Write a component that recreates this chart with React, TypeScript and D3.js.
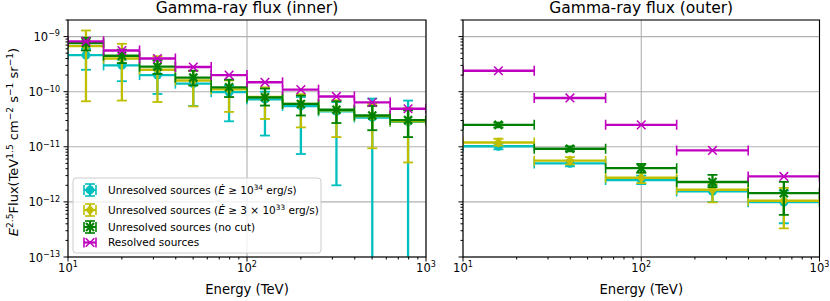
import React from "react";
import * as d3 from "d3";

// energy bins (TeV)
const innerEdges = [10, 15.8, 25.1, 39.8, 63.1, 100, 158, 251, 398, 631, 1000];
const innerCenters = [12.6, 20, 31.6, 50.1, 79.4, 126, 200, 316, 501, 794];
const outerEdges = [10, 25.1, 63.1, 158, 398, 1000];
const outerCenters = [15.8, 39.8, 100, 251, 631];

// inner region fluxes
const innerHi = [4.6e-10, 3.0e-10, 2.0e-10, 1.4e-10, 9.8e-11, 7.3e-11, 5.5e-11, 4.4e-11, 3.4e-11, 2.85e-11];
const innerHiLo = [2.5e-10, 1.55e-10, 9.1e-11, 5.5e-11, 2.9e-11, 1.6e-11, 7.4e-12, 2.0e-12, 1e-15, 1e-15];
const innerHiUp = [6.0e-10, 3.8e-10, 2.6e-10, 1.8e-10, 1.3e-10, 1.0e-10, 8.0e-11, 6.5e-11, 7.5e-11, 6.9e-11];

const innerMid = [6.7e-10, 4.0e-10, 2.5e-10, 1.6e-10, 1.1e-10, 8.0e-11, 6.0e-11, 4.6e-11, 3.6e-11, 2.9e-11];
const innerMidLo = [6.7e-11, 6.9e-11, 6.5e-11, 5.4e-11, 4.3e-11, 3.2e-11, 2.25e-11, 1.5e-11, 9.4e-12, 5.2e-12];
const innerMidUp = [1.29e-9, 7.4e-10, 4.4e-10, 2.4e-10, 1.6e-10, 1.2e-10, 9.0e-11, 7.0e-11, 6.0e-11, 5.0e-11];

const innerAll = [7.6e-10, 4.5e-10, 2.85e-10, 1.8e-10, 1.2e-10, 7.9e-11, 6.0e-11, 4.7e-11, 3.7e-11, 3.05e-11];
const innerAllLo = [5.6e-10, 3.3e-10, 2.1e-10, 1.3e-10, 8.0e-11, 5.6e-11, 3.7e-11, 2.7e-11, 2.0e-11, 1.5e-11];
const innerAllUp = [9.5e-10, 5.8e-10, 3.7e-10, 2.4e-10, 1.65e-10, 1.14e-10, 8.5e-11, 6.7e-11, 5.5e-11, 4.6e-11];

const innerResolved = [8.2e-10, 5.6e-10, 4.0e-10, 2.8e-10, 2.0e-10, 1.48e-10, 1.09e-10, 8.2e-11, 6.4e-11, 4.9e-11];

// outer region fluxes
const outerHi = [1.02e-11, 5.0e-12, 2.5e-12, 1.55e-12, 9.9e-13];
const outerHiLo = [9.0e-12, 4.4e-12, 2.1e-12, 1.0e-12, 4.1e-13];
const outerHiUp = [1.15e-11, 5.6e-12, 3.0e-12, 2.0e-12, 1.6e-12];

const outerMid = [1.2e-11, 5.6e-12, 2.75e-12, 1.66e-12, 1.05e-12];
const outerMidLo = [1.05e-11, 4.8e-12, 2.2e-12, 9.8e-13, 3.3e-13];
const outerMidUp = [1.4e-11, 6.5e-12, 3.4e-12, 2.1e-12, 1.8e-12];

const outerAll = [2.5e-11, 9.2e-12, 4.1e-12, 2.3e-12, 1.44e-12];
const outerAllLo = [2.25e-11, 8.3e-12, 3.4e-12, 1.85e-12, 5.8e-13];
const outerAllUp = [2.75e-11, 1.02e-11, 4.9e-12, 3.1e-12, 2.3e-12];

const outerResolved = [2.4e-10, 7.7e-11, 2.5e-11, 8.6e-12, 2.9e-12];

// axes
const xTickExps = [1, 2, 3];
const yTickExps = [-13, -12, -11, -10, -9];
const xDomain = [10, 1000];
const yDomain = [1e-13, 2e-9];

const colors = { hi: "#00bfbf", mid: "#bfbf00", all: "#008000", res: "#bf00bf" };

const FONT = "DejaVu Sans";
const TOP = 20;
const BOTTOM = 257;

type Part = { t: string; sup?: boolean; it?: boolean };

const legendLabels: Part[][] = [
  [{ t: "Unresolved sources (" }, { t: "Ė", it: true }, { t: " ≥ 10" }, { t: "34", sup: true }, { t: " erg/s)" }],
  [{ t: "Unresolved sources (" }, { t: "Ė", it: true }, { t: " ≥ 3 × 10" }, { t: "33", sup: true }, { t: " erg/s)" }],
  [{ t: "Unresolved sources (no cut)" }],
  [{ t: "Resolved sources" }],
];

const yLabelParts: Part[] = [
  { t: "E", it: true },
  { t: "2.5", sup: true },
  { t: "Flux(TeV" },
  { t: "1.5", sup: true },
  { t: " cm" },
  { t: "−2", sup: true },
  { t: " s" },
  { t: "−1", sup: true },
  { t: " sr" },
  { t: "−1", sup: true },
  { t: ")" },
];

function rich(parts: Part[], fs: number) {
  const raise = fs * 0.4;
  let up = false;
  return parts.map((p, i) => {
    let dy = 0;
    if (p.sup && !up) { dy = -raise; up = true; }
    else if (!p.sup && up) { dy = raise; up = false; }
    return (
      <tspan
        key={i}
        dy={dy || undefined}
        fontSize={p.sup ? fs * 0.7 : undefined}
        fontStyle={p.it ? "italic" : undefined}
      >
        {p.t}
      </tspan>
    );
  });
}

function pow10(e: number): Part[] {
  return [{ t: "10" }, { t: e < 0 ? "−" + Math.abs(e) : String(e), sup: true }];
}

function Marker({ kind, x, y, color }: { kind: string; x: number; y: number; color: string }) {
  if (kind === "o") return <circle cx={x} cy={y} r={4.4} fill={color} />;
  if (kind === "D")
    return <path d={`M${x},${y - 5.3}L${x + 4.6},${y}L${x},${y + 5.3}L${x - 4.6},${y}Z`} fill={color} />;
  if (kind === "X")
    return (
      <g stroke={color} strokeWidth={2.2}>
        <line x1={x - 4} y1={y - 4} x2={x + 4} y2={y + 4} />
        <line x1={x - 4} y1={y + 4} x2={x + 4} y2={y - 4} />
      </g>
    );
  return (
    <g stroke={color} strokeWidth={1.5}>
      <line x1={x - 4.3} y1={y - 4.3} x2={x + 4.3} y2={y + 4.3} />
      <line x1={x - 4.3} y1={y + 4.3} x2={x + 4.3} y2={y - 4.3} />
    </g>
  );
}

type Series = { color: string; marker: string; val: number[]; lo?: number[]; up?: number[] };

const innerSeries: Series[] = [
  { color: colors.hi, marker: "o", val: innerHi, lo: innerHiLo, up: innerHiUp },
  { color: colors.mid, marker: "D", val: innerMid, lo: innerMidLo, up: innerMidUp },
  { color: colors.all, marker: "X", val: innerAll, lo: innerAllLo, up: innerAllUp },
  { color: colors.res, marker: "x", val: innerResolved },
];
const outerSeries: Series[] = [
  { color: colors.hi, marker: "o", val: outerHi, lo: outerHiLo, up: outerHiUp },
  { color: colors.mid, marker: "D", val: outerMid, lo: outerMidLo, up: outerMidUp },
  { color: colors.all, marker: "X", val: outerAll, lo: outerAllLo, up: outerAllUp },
  { color: colors.res, marker: "x", val: outerResolved },
];

const isDecade = (v: number) => Math.abs(Math.log10(v) - Math.round(Math.log10(v))) < 1e-6;

function Panel({
  id, x0, x1, title, edges, centers, series, labels, children,
}: {
  id: string; x0: number; x1: number; title: string; edges: number[]; centers: number[];
  series: Series[]; labels: boolean; children?: React.ReactNode;
}) {
  const x = d3.scaleLog().domain(xDomain).range([x0, x1]);
  const y = d3.scaleLog().domain(yDomain).range([BOTTOM, TOP]);
  const xt = x.ticks();
  const yt = y.ticks();
  return (
    <g>
      <defs>
        <clipPath id={id}>
          <rect x={x0} y={TOP} width={x1 - x0} height={BOTTOM - TOP} />
        </clipPath>
      </defs>
      <g stroke="#b0b0b0" strokeWidth={1.1}>
        {xt.filter(isDecade).map((t) => (
          <line key={t} x1={x(t)} x2={x(t)} y1={TOP} y2={BOTTOM} />
        ))}
        {yt.filter(isDecade).map((t) => (
          <line key={t} x1={x0} x2={x1} y1={y(t)} y2={y(t)} />
        ))}
      </g>
      <g clipPath={`url(#${id})`}>
        {series.map((s, si) => (
          <g key={si} stroke={s.color}>
            {centers.map((c, i) => {
              const yy = y(s.val[i]);
              const xl = x(edges[i]);
              const xr = x(edges[i + 1]);
              const xc = x(c);
              return (
                <g key={i}>
                  <line x1={xl} x2={xr} y1={yy} y2={yy} strokeWidth={2.4} />
                  <line x1={xl} x2={xl} y1={yy - 5} y2={yy + 5} strokeWidth={1.6} />
                  <line x1={xr} x2={xr} y1={yy - 5} y2={yy + 5} strokeWidth={1.6} />
                  {s.lo && s.up && (
                    <g>
                      <line x1={xc} x2={xc} y1={y(s.lo[i])} y2={y(s.up[i])} strokeWidth={2.3} />
                      <line x1={xc - 5} x2={xc + 5} y1={y(s.lo[i])} y2={y(s.lo[i])} strokeWidth={1.8} />
                      <line x1={xc - 5} x2={xc + 5} y1={y(s.up[i])} y2={y(s.up[i])} strokeWidth={1.8} />
                    </g>
                  )}
                </g>
              );
            })}
            <g stroke="none">
              {centers.map((c, i) => (
                <Marker key={i} kind={s.marker} x={x(c)} y={y(s.val[i])} color={s.color} />
              ))}
            </g>
          </g>
        ))}
      </g>
      {children}
      <rect x={x0} y={TOP} width={x1 - x0} height={BOTTOM - TOP} fill="none" stroke="#000" strokeWidth={1.1} />
      <g stroke="#000" strokeWidth={1}>
        {xt.map((t) => (
          <line key={t} x1={x(t)} x2={x(t)} y1={BOTTOM} y2={BOTTOM + (isDecade(t) ? 4.5 : 2.5)} />
        ))}
        {yt.map((t) => (
          <line key={t} x1={x0} x2={x0 - (isDecade(t) ? 4.5 : 2.5)} y1={y(t)} y2={y(t)} />
        ))}
      </g>
      <g fontFamily={FONT} fontSize={11.5} fill="#000">
        {xTickExps.map((e) => (
          <text key={e} x={x(10 ** e)} y={271.5} textAnchor="middle">
            {rich(pow10(e), 11.5)}
          </text>
        ))}
        {labels &&
          yTickExps.map((e) => (
            <text key={e} x={x0 - 8} y={y(10 ** e) + 4.5} textAnchor="end">
              {rich(pow10(e), 11.5)}
            </text>
          ))}
      </g>
      <text x={(x0 + x1) / 2} y={13} textAnchor="middle" fontFamily={FONT} fontSize={15.5}>
        {title}
      </text>
      <text x={(x0 + x1) / 2} y={293.5} textAnchor="middle" fontFamily={FONT} fontSize={13.2}>
        Energy (TeV)
      </text>
    </g>
  );
}

function Legend() {
  const lx = 73, ly = 178, w = 248, h = 75;
  const hx = 90;
  const rows = [190, 210, 227, 242.5];
  const items = innerSeries;
  return (
    <g>
      <rect x={lx} y={ly} width={w} height={h} rx={3} fill="#fff" fillOpacity={0.8} stroke="#cccccc" strokeWidth={1} />
      {items.map((s, i) => {
        const cy = rows[i];
        return (
          <g key={i}>
            <g stroke={s.color}>
              <line x1={hx - 6} x2={hx + 6} y1={cy} y2={cy} strokeWidth={2.2} />
              <line x1={hx - 6} x2={hx - 6} y1={cy - 5} y2={cy + 5} strokeWidth={1.6} />
              <line x1={hx + 6} x2={hx + 6} y1={cy - 5} y2={cy + 5} strokeWidth={1.6} />
              {s.lo && (
                <g>
                  <line x1={hx} x2={hx} y1={cy - 6} y2={cy + 6} strokeWidth={2.2} />
                  <line x1={hx - 5} x2={hx + 5} y1={cy - 6} y2={cy - 6} strokeWidth={1.6} />
                  <line x1={hx - 5} x2={hx + 5} y1={cy + 6} y2={cy + 6} strokeWidth={1.6} />
                </g>
              )}
            </g>
            <Marker kind={s.marker} x={hx} y={cy} color={s.color} />
            <text x={108} y={cy + 3.8} fontFamily={FONT} fontSize={10.5}>
              {rich(legendLabels[i], 10.5)}
            </text>
          </g>
        );
      })}
    </g>
  );
}

export default function App() {
  return (
    <svg width={830} height={301} style={{ position: "absolute", left: 0, top: 0, background: "#fff" }}>
      <Panel id="clipInner" x0={68} x1={426} title="Gamma-ray flux (inner)" edges={innerEdges}
        centers={innerCenters} series={innerSeries} labels={true}>
        <Legend />
      </Panel>
      <Panel id="clipOuter" x0={463} x1={819.5} title="Gamma-ray flux (outer)" edges={outerEdges}
        centers={outerCenters} series={outerSeries} labels={false} />
      <text transform="translate(18,142) rotate(-90)" textAnchor="middle" fontFamily={FONT} fontSize={13}>
        {rich(yLabelParts, 13)}
      </text>
    </svg>
  );
}
